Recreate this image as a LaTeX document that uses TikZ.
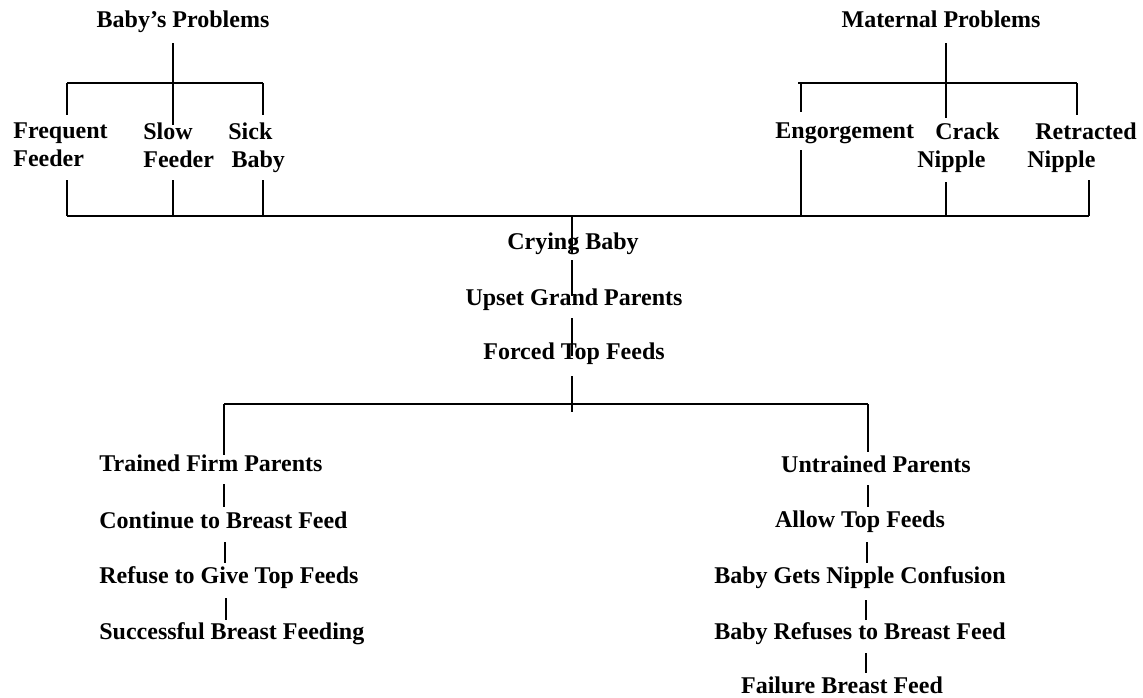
\documentclass[tikz,border=0pt]{standalone}
\usepackage{fontspec}
\setmainfont{Liberation Serif}
\usetikzlibrary{positioning}

\begin{document}
\begin{tikzpicture}[x=0.5pt,y=-0.5pt,
    lbl/.style={font=\fontsize{12}{14}\selectfont\bfseries,inner sep=0pt,anchor=base},
    lbltwo/.style={lbl,align=left,anchor=north west},
    ln/.style={line width=0.6pt}]
\useasboundingbox (0,0) rectangle (1143,697);
% problem headings
\node[lbl] (baby) at (183,27) {Baby's Problems};
\node[lbl] (mat)  at (941,27) {Maternal Problems};
% baby side causes
\node[lbltwo] (freq) at (13,122)  {Frequent\\Feeder};
\node[lbltwo] (slow) at (143,122) {Slow\\Feeder};
\node[lbltwo] (sick) at (228,122) {Sick\\\hspace*{4\pgflinewidth}Baby};
% maternal causes
\node[lbl,anchor=base west] (eng) at (775,138) {Engorgement};
\node[lbltwo] (crack) at (917,122) {\hspace*{9pt}Crack\\Nipple};
\node[lbltwo] (retr)  at (1027,122) {\hspace*{4pt}Retracted\\Nipple};
% central chain
\node[lbl] (cry)   at (573,249) {Crying Baby};
\node[lbl] (upset) at (574,305) {Upset Grand Parents};
\node[lbl] (force) at (574,359) {Forced Top Feeds};
% trained branch
\node[lbl,anchor=base west] (trained) at (99,471) {Trained Firm Parents};
\node[lbl,anchor=base west] (cont)    at (99,528) {Continue to Breast Feed};
\node[lbl,anchor=base west] (refuse)  at (99,583) {Refuse to Give Top Feeds};
\node[lbl,anchor=base west] (succ)    at (99,639) {Successful Breast Feeding};
% untrained branch
\node[lbl] (untr)   at (876,472) {Untrained Parents};
\node[lbl] (allow)  at (860,527) {Allow Top Feeds};
\node[lbl] (conf)   at (860,583) {Baby Gets Nipple Confusion};
\node[lbl] (brefus) at (860,639) {Baby Refuses to Breast Feed};
\node[lbl] (fail)   at (842,693) {Failure Breast Feed};

% junction points
\coordinate (bpS) at (173,43);   \coordinate (bpJ) at (173,83);
\coordinate (bpL) at (67,83);    \coordinate (bpR) at (263,83);
\coordinate (mpS) at (946,43);   \coordinate (mpJ) at (946,83);
\coordinate (mpL) at (798,83);   \coordinate (mpR) at (1077,83);
\coordinate (barL) at (67,216);  \coordinate (barR) at (1089,216);
\coordinate (barM) at (572,216);
\coordinate (splitM) at (572,404);
\coordinate (splitL) at (224,404); \coordinate (splitR) at (868,404);

\begin{scope}[ln]
% baby's problems tree
\draw (bpS) -- (bpJ);
\draw (bpL) -- (bpR);
\draw (bpL) -- (67,115);
\draw (bpJ) -- (173,125);
\draw (bpR) -- (263,115);
\draw (67,180) -- (barL);
\draw (173,180) -- (173,216);
\draw (263,180) -- (263,216);
% maternal problems tree
\draw (mpS) -- (mpJ);
\draw (mpL) -- (mpR);
\draw (801,83) -- (801,112);
\draw (mpJ) -- (946,118);
\draw (mpR) -- (1077,115);
\draw (801,150) -- (801,216);
\draw (946,182) -- (946,216);
\draw (1089,180) -- (barR);
% common bar and central chain
\draw (barL) -- (barR);
\draw (barM) -- (572,253);
\draw (572,260) -- (572,296);
\draw (572,318) -- (572,356);
\draw (572,376) -- (572,412);
\draw (splitL) -- (splitR);
% trained branch
\draw (splitL) -- (224,455);
\draw (224,484) -- (224,507);
\draw (225,542) -- (225,563);
\draw (226,598) -- (226,620);
% untrained branch
\draw (splitR) -- (868,452);
\draw (868,485) -- (868,507);
\draw (867,542) -- (867,563);
\draw (866,600) -- (866,620);
\draw (866,653) -- (866,673);
\end{scope}
\end{tikzpicture}
\end{document}
